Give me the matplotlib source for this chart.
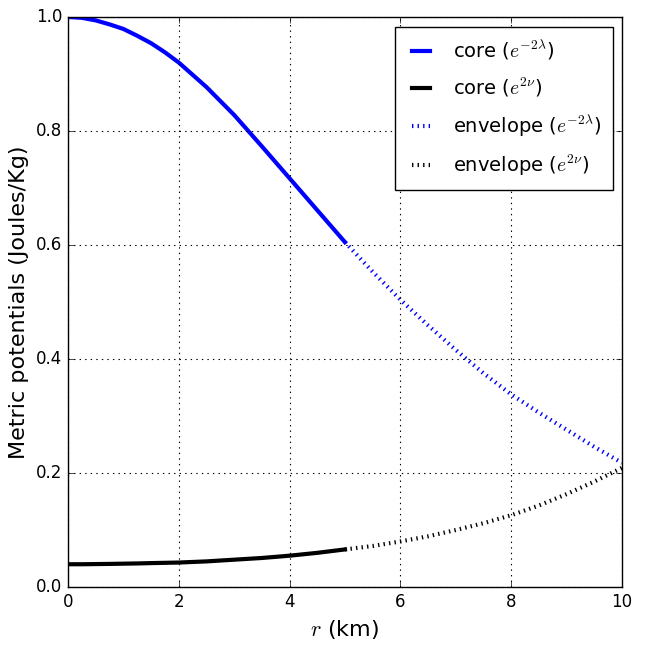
import matplotlib
matplotlib.use("Agg")
import matplotlib.pyplot as plt

plt.style.use("classic")
plt.rcParams["mathtext.fontset"] = "cm"
plt.rcParams["font.family"] = ["DejaVu Sans"]

# Data
r_core = [0.0, 0.25, 0.5, 0.75, 1.0, 1.25, 1.5, 1.75, 2.0, 2.5, 3.0, 3.5, 4.0, 4.5, 5.0]
lam_core = [1.0, 0.9985, 0.994, 0.987, 0.979, 0.967, 0.954, 0.938, 0.920, 0.877, 0.828,
            0.773, 0.717, 0.661, 0.605]
nu_core = [0.040, 0.040, 0.0403, 0.0406, 0.041, 0.0414, 0.042, 0.0425, 0.043, 0.045, 0.048,
           0.051, 0.055, 0.060, 0.066]

r_env = [5.0, 5.5, 6.0, 6.5, 7.0, 7.5, 8.0, 8.5, 9.0, 9.5, 10.0]
lam_env = [0.605, 0.553, 0.504, 0.459, 0.416, 0.375, 0.338, 0.306, 0.276, 0.246, 0.218]
nu_env = [0.066, 0.072, 0.080, 0.089, 0.100, 0.112, 0.126, 0.143, 0.163, 0.185, 0.209]

xticks = [0, 2, 4, 6, 8, 10]
yticks = [0.0, 0.2, 0.4, 0.6, 0.8, 1.0]

fig = plt.figure(figsize=(6.54, 6.53), dpi=100, facecolor="white")
ax = fig.add_axes([0.104, 0.101, 0.847, 0.873])

ax.plot(r_core, lam_core, color="blue", lw=3, ls="-", label=r"core ($e^{-2\lambda}$)")
ax.plot(r_core, nu_core, color="black", lw=3, ls="-", label=r"core ($e^{2\nu}$)")
ax.plot(r_env, lam_env, color="blue", lw=3, ls=":", label=r"envelope ($e^{-2\lambda}$)")
ax.plot(r_env, nu_env, color="black", lw=3, ls=":", label=r"envelope ($e^{2\nu}$)")

ax.set_xlim(0, 10)
ax.set_ylim(0, 1.0)
ax.set_xticks(xticks)
ax.set_yticks(yticks)
ax.tick_params(labelsize=12)
ax.grid(True, color="black", ls=":", lw=0.8)

ax.set_xlabel(r"$r$ (km)", fontsize=16)
ax.set_ylabel("Metric potentials (Joules/Kg)", fontsize=16)

leg = ax.legend(loc="upper right", fontsize=14, handlelength=1.5, borderpad=0.6,
                labelspacing=0.72, handletextpad=0.9, borderaxespad=0,
                bbox_to_anchor=(0.984, 0.982))

fig.savefig("out.png", dpi=100, facecolor="white")
